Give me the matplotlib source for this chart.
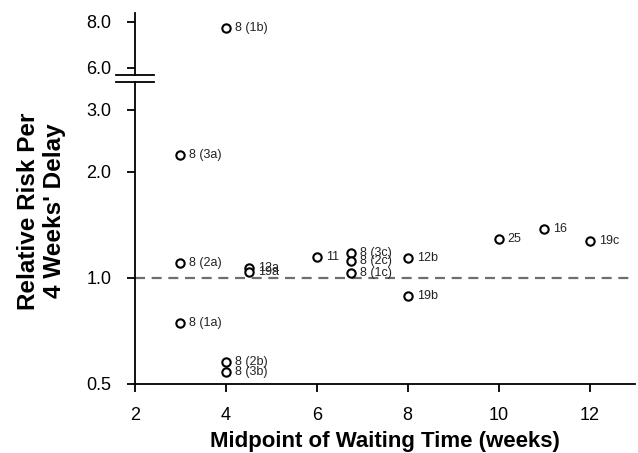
import numpy as np
from matplotlib import pyplot as plt
from matplotlib.ticker import FixedLocator, NullLocator, FormatStrFormatter

plt.rcParams['font.family'] = ['Liberation Sans', 'DejaVu Sans']

# midpoint of waiting time (weeks), relative risk per 4 weeks' delay, study label
weeks = np.array([4, 3, 3, 3, 4, 4, 4.5, 4.5, 6, 6.75, 6.75, 6.75, 8, 8, 10, 11, 12])
risk = np.array([7.7, 2.23, 1.10, 0.745, 0.577, 0.541, 1.07, 1.04, 1.147,
                 1.18, 1.12, 1.03, 1.14, 0.89, 1.29, 1.38, 1.27])
labels = ['8 (1b)', '8 (3a)', '8 (2a)', '8 (1a)', '8 (2b)', '8 (3b)', '12a', '19a',
          '11', '8 (3c)', '8 (2c)', '8 (1c)', '12b', '19b', '25', '16', '19c']

xticks = [2, 4, 6, 8, 10, 12]
yticks_low = [0.5, 1.0, 2.0, 3.0]
yticks_high = [6.0, 8.0]

W, H = 638, 453
fig = plt.figure(figsize=(W / 100, H / 100), dpi=100)

def box(l, t, r, b):
    return [l / W, 1 - b / H, (r - l) / W, (b - t) / H]

ax_hi = fig.add_axes(box(135, 13, 635, 75))
ax_lo = fig.add_axes(box(135, 82, 635, 384))

lw = 1.3
for ax in (ax_hi, ax_lo):
    ax.set_yscale('log')
    ax.set_xlim(2, 13)
    for s in ('top', 'right'):
        ax.spines[s].set_visible(False)
    ax.spines['left'].set_linewidth(lw)
    ax.spines['bottom'].set_linewidth(lw)
    ax.tick_params(direction='out', length=5.5, width=lw, labelsize=13, pad=11.5)
    ax.yaxis.set_minor_locator(NullLocator())
    ax.yaxis.set_major_formatter(FormatStrFormatter('%.1f'))

ax_hi.set_ylim(5.74, 8.44)
ax_hi.spines['bottom'].set_visible(False)
ax_hi.set_xticks([])
ax_hi.yaxis.set_major_locator(FixedLocator(yticks_high))

ax_lo.set_ylim(0.5, 3.6)
ax_lo.yaxis.set_major_locator(FixedLocator(yticks_low))
ax_lo.set_xticks(xticks)
ax_lo.tick_params(axis='x', pad=11)
ax_lo.axhline(1.0, color='#6e6e6e', lw=1.6, ls=(0, (4.5, 3.0)), zorder=1)

hi = risk > 5
for ax, m in ((ax_hi, hi), (ax_lo, ~hi)):
    ax.plot(weeks[m], risk[m], 'o', ms=6, mfc='white', mec='black', mew=1.5,
            clip_on=False, zorder=3)
    for x, y, lab in zip(weeks[m], risk[m], np.array(labels)[m]):
        ax.annotate(lab, (x, y), xytext=(6.5, 0), textcoords='offset points',
                    va='center', ha='left', fontsize=9, color='#222222')

# axis break marks
for yb in (75, 82):
    fig.add_artist(plt.Line2D([116 / W, 154 / W], [1 - yb / H, 1 - yb / H],
                              color='black', lw=lw))

ax_lo.set_xlabel('Midpoint of Waiting Time (weeks)', fontsize=16,
                 fontweight='bold', labelpad=5)
fig.text(41.5 / W, 1 - 211 / H, "Relative Risk Per\n4 Weeks' Delay", rotation=90,
         ha='center', va='center', fontsize=17.5, fontweight='bold',
         multialignment='center', linespacing=1.2)

plt.savefig('out.png', dpi=100)
